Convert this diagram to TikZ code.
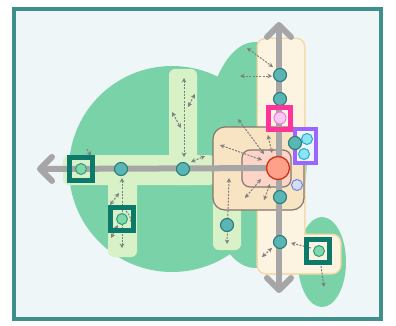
\documentclass[tikz,border=0pt]{standalone}
\usetikzlibrary{arrows.meta}
\definecolor{bgc}{HTML}{EEF6F8}
\definecolor{framec}{HTML}{3F8F8C}
\definecolor{blobc}{HTML}{7AD3A8}
\definecolor{lgc}{HTML}{D8F1C6}
\definecolor{tanc}{HTML}{FDF3E1}
\definecolor{tanb}{HTML}{F5D8A5}
\definecolor{boxc}{HTML}{F8E3C2}
\definecolor{boxb}{HTML}{87766F}
\definecolor{pinkc}{HTML}{FCD4C8}
\definecolor{grayl}{HTML}{A6A6A6}
\definecolor{tealf}{HTML}{5AB5B5}
\definecolor{tealb}{HTML}{2D7A78}
\definecolor{sqc}{HTML}{0B7A6A}
\definecolor{lgnf}{HTML}{80D8AA}
\definecolor{lgnb}{HTML}{2D9A80}
\definecolor{pnf}{HTML}{F9C8F5}
\definecolor{pnb}{HTML}{EE7DD8}
\definecolor{hotp}{HTML}{FF3399}
\definecolor{purp}{HTML}{9966FF}
\definecolor{purf}{HTML}{EEF4FA}
\definecolor{cyf}{HTML}{8CE6F2}
\definecolor{cyb}{HTML}{22AACC}
\definecolor{redf}{HTML}{FFA088}
\definecolor{redb}{HTML}{CC3311}
\definecolor{lbf}{HTML}{D4DDF5}
\definecolor{lbb}{HTML}{6688DD}
\definecolor{arrc}{HTML}{7F7F7F}
\begin{document}
\begin{tikzpicture}[x=1pt,y=-1pt,
  tealnode/.style={circle,fill=tealf,draw=tealb,line width=1.1pt,minimum size=13pt,inner sep=0pt},
  lgnode/.style={circle,fill=lgnf,draw=lgnb,line width=1pt,minimum size=11pt,inner sep=0pt},
  sqframe/.style={draw=sqc,line width=4.5pt,minimum size=23pt,inner sep=0pt},
  pinknode/.style={circle,fill=pnf,draw=pnb,line width=1pt,minimum size=12pt,inner sep=0pt},
  pinkframe/.style={draw=hotp,line width=5pt,minimum size=22pt,inner sep=0pt},
  purpframe/.style={draw=purp,fill=purf,line width=4pt,minimum width=21pt,minimum height=34pt,inner sep=0pt},
  cynode/.style={circle,fill=cyf,draw=cyb,line width=1pt,minimum size=11pt,inner sep=0pt},
  rednode/.style={circle,fill=redf,draw=redb,line width=1.3pt,minimum size=23pt,inner sep=0pt},
  lbnode/.style={circle,fill=lbf,draw=lbb,line width=1pt,minimum size=11pt,inner sep=0pt},
  mainline/.style={draw=grayl,line width=6pt},
  dasharr/.style={draw=arrc,line width=1pt,dash pattern=on 2pt off 1.3pt},
  biarr/.style={dasharr,{Stealth[length=4.5pt,width=4.5pt]}-{Stealth[length=4.5pt,width=4.5pt]}},
  onearr/.style={dasharr,-{Stealth[length=4.5pt,width=4.5pt]}}
]
\useasboundingbox (0,0) rectangle (396,325);
\fill[white] (0,0) rectangle (396,325);
\draw[framec,line width=4pt,fill=bgc] (14,9) rectangle (381,319);
% green blobs
\fill[blobc] (172,169) circle[radius=103pt];
\fill[blobc] (255,155) ellipse[x radius=52pt,y radius=113pt];
\fill[blobc] (322,262) ellipse[x radius=24pt,y radius=45pt];
% light green bars
\fill[lgc,rounded corners=6pt] (63,155) rectangle (215,185);
\fill[lgc,rounded corners=6pt] (108,155) rectangle (137,257);
\fill[lgc,rounded corners=6pt] (169,69) rectangle (197,185);
\fill[lgc,rounded corners=6pt] (213,190) rectangle (241,250);
% tan column
\draw[tanb,line width=3pt,rounded corners=8pt] (258,39) rectangle (304,273);
\draw[tanb,line width=3pt,rounded corners=8pt] (258,235) rectangle (340,273);
\fill[tanc,rounded corners=8pt] (258,39) rectangle (304,273);
\fill[tanc,rounded corners=8pt] (258,235) rectangle (340,273);
% boxes
\filldraw[fill=boxc,draw=boxb,line width=1.2pt,rounded corners=12pt] (213,127) rectangle (304,210);
\filldraw[fill=pinkc,draw=boxb,line width=1.2pt,rounded corners=8pt] (242,150) rectangle (291,187);
% main line coordinates
\coordinate (lefttip) at (37,169);
\coordinate (toptip) at (279,22);
\coordinate (bottip) at (279,293);
\coordinate (redc) at (278,168);
\draw[mainline,-{Straight Barb[length=12pt,width=24pt,round]}] (redc) -- (lefttip);
\draw[mainline,{Straight Barb[length=12pt,width=24pt,round]}-{Straight Barb[length=12pt,width=24pt,round]}] (toptip) -- (bottip);
% dashed arrows
\coordinate (a1s) at (184,78);  \coordinate (a1e) at (184,157);
\coordinate (a2s) at (195,94);  \coordinate (a2e) at (188,107);
\coordinate (a3s) at (172,112); \coordinate (a3e) at (181,128);
\coordinate (a4s) at (191,162); \coordinate (a4e) at (205,156);
\coordinate (a5s) at (87,149);  \coordinate (a5e) at (91,156);
\coordinate (a6s) at (122,178); \coordinate (a6e) at (122,248);
\coordinate (a7s) at (119,193); \coordinate (a7e) at (110,205);
\coordinate (a8s) at (118,225); \coordinate (a8e) at (111,238);
\coordinate (a9s) at (238,119); \coordinate (a9e) at (264,154);
\coordinate (a10s) at (220,145); \coordinate (a10e) at (262,160);
\coordinate (a11s) at (268,135); \coordinate (a11e) at (272,153);
\coordinate (a12s) at (229,178); \coordinate (a12e) at (227,244);
\coordinate (a13s) at (245,198); \coordinate (a13e) at (261,179);
\coordinate (a14s) at (264,200); \coordinate (a14e) at (270,184);
\coordinate (a15s) at (247,48);  \coordinate (a15e) at (273,67);
\coordinate (a16s) at (240,76);  \coordinate (a16e) at (272,76);
\coordinate (a17s) at (311,248); \coordinate (a17e) at (291,243);
\coordinate (a18s) at (262,257); \coordinate (a18e) at (272,248);
\coordinate (a19s) at (321,266); \coordinate (a19e) at (324,287);
\coordinate (a20s) at (126,211); \coordinate (a20e) at (131,222);
\draw[biarr] (a1s) -- (a1e);
\draw[biarr] (a2s) -- (a2e);
\draw[biarr] (a3s) -- (a3e);
\draw[biarr] (a4s) -- (a4e);
\draw[onearr] (a5s) -- (a5e);
\draw[biarr] (a6s) -- (a6e);
\draw[biarr] (a7s) -- (a7e);
\draw[biarr] (a8s) -- (a8e);
\draw[biarr] (a9s) -- (a9e);
\draw[biarr] (a10s) -- (a10e);
\draw[biarr] (a11s) -- (a11e);
\draw[biarr] (a12s) -- (a12e);
\draw[biarr] (a13s) -- (a13e);
\draw[biarr] (a14s) -- (a14e);
\draw[biarr] (a15s) -- (a15e);
\draw[biarr] (a16s) -- (a16e);
\draw[onearr] (a17s) -- (a17e);
\draw[biarr] (a18s) -- (a18e);
\draw[onearr] (a19s) -- (a19e);
\draw[dasharr] (a20s) to[bend left=20] (a20e);
% nodes
\node[tealnode] (h1) at (121,169) {};
\node[tealnode] (h2) at (183,169) {};
\node[sqframe] (sq1) at (81,169) {};
\node[lgnode] (g1) at (81,169) {};
\node[sqframe] (sq2) at (122,219) {};
\node[lgnode] (g2) at (122,219) {};
\node[sqframe] (sq3) at (318,251) {};
\node[lgnode] (g3) at (319,251) {};
\node[tealnode] (v1) at (280,75) {};
\node[tealnode] (v2) at (280,99) {};
\node[pinkframe] (pf) at (279.5,118.5) {};
\node[pinknode] (pn) at (280,118) {};
\node[purpframe] (pb) at (305.5,146) {};
\node[tealnode] (v3) at (295,143) {};
\node[cynode] (c1) at (307,139) {};
\node[cynode] (c2) at (304,154) {};
\node[rednode] (red) at (redc) {};
\node[lbnode] (lb) at (297,185) {};
\node[tealnode] (v4) at (280,197) {};
\node[tealnode] (v5) at (280,242) {};
\node[tealnode] (m1) at (227,225) {};
\end{tikzpicture}
\end{document}
